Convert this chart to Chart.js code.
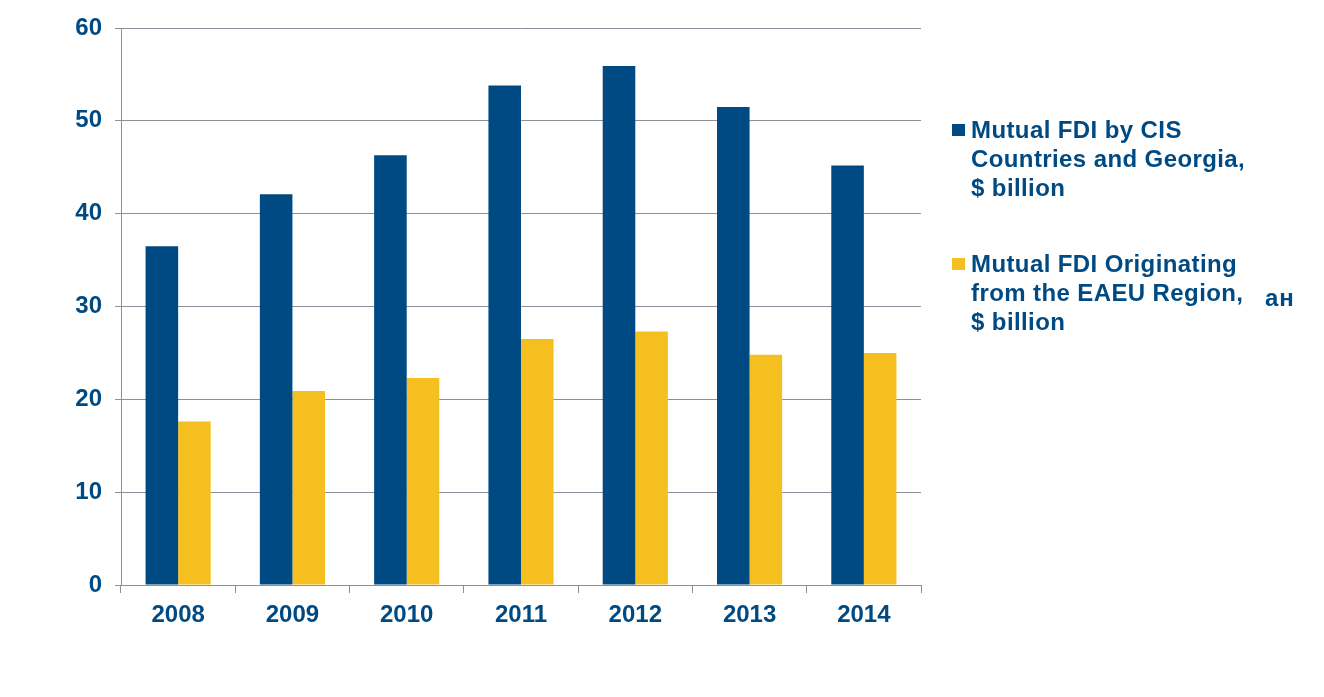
<!DOCTYPE html>
<html lang="en">
<head>
    <meta charset="UTF-8">
    <title>Mutual FDI</title>
    <style>
        body { margin: 0; background: #fff; }
        #wrap { position: relative; width: 1324px; height: 697px; }
        #legend { position: absolute; left: 952px; top: 115px; font-family: "Liberation Sans", Arial, sans-serif; font-weight: bold; font-size: 24px; letter-spacing: 0.4px; line-height: 29px; color: #004a84; }
        .item { position: relative; padding-left: 19px; margin-bottom: 47px; white-space: nowrap; }
        .box { position: absolute; left: 0; top: 9px; width: 13px; height: 12px; }
        #stray { position: absolute; left: 1265px; top: 284px; font-family: "Liberation Sans", Arial, sans-serif; font-weight: bold; font-size: 24px; letter-spacing: 1px; color: #004a84; }
    </style>
</head>
<body>
<div id="wrap">
    <canvas id="chart" width="1324" height="697"></canvas>
    <div id="legend"></div>
    <div id="stray">ан</div>
</div>
<script src="https://cdn.jsdelivr.net/npm/chart.js"></script>
<script>
    const years = ['2008', '2009', '2010', '2011', '2012', '2013', '2014']
    const cisFdi = [36.5, 42.1, 46.3, 53.8, 55.9, 51.5, 45.2]
    const eaeuFdi = [17.6, 20.9, 22.3, 26.5, 27.3, 24.8, 25.0]
    const labels = [
        ['Mutual FDI by CIS', 'Countries and Georgia,', '$ billion'],
        ['Mutual FDI Originating', 'from the EAEU Region,', '$ billion']
    ]
    const blue = '#004a84'
    const yellow = '#f5bf1f'
    const axisGrey = '#8c909a'
    const font = { family: '"Liberation Sans", Arial, sans-serif', size: 24, weight: 'bold' }

    const data = {
        labels: years,
        datasets: [
            { label: labels[0].join(' '), data: cisFdi, backgroundColor: blue },
            { label: labels[1].join(' '), data: eaeuFdi, backgroundColor: yellow }
        ]
    }

    const config = {
        type: 'bar',
        data: data,
        options: {
            responsive: false,
            animation: false,
            layout: { padding: { top: 28, right: 403, left: 0, bottom: 0 } },
            plugins: { legend: { display: false }, tooltip: { enabled: false } },
            datasets: { bar: { categoryPercentage: 0.57, barPercentage: 1.0 } },
            scales: {
                x: {
                    afterFit: (scale) => { scale.height = 112 },
                    grid: { offset: true, drawOnChartArea: false, drawTicks: true, tickLength: 8, color: axisGrey },
                    border: { display: true, color: axisGrey, width: 1 },
                    ticks: { color: blue, font: font, padding: 8 }
                },
                y: {
                    min: 0,
                    max: 60,
                    afterFit: (scale) => { scale.width = 121 },
                    grid: { color: axisGrey, tickLength: 6 },
                    border: { display: true, color: axisGrey, width: 1 },
                    ticks: { stepSize: 10, color: blue, font: font, padding: 13 }
                }
            }
        }
    }

    const chart = new Chart(document.getElementById('chart'), config)

    const legend = document.getElementById('legend')
    data.datasets.forEach((ds, i) => {
        const item = document.createElement('div')
        item.className = 'item'
        const box = document.createElement('span')
        box.className = 'box'
        box.style.background = ds.backgroundColor
        item.appendChild(box)
        item.insertAdjacentHTML('beforeend', labels[i].join('<br>'))
        legend.appendChild(item)
    })
</script>
</body>
</html>
